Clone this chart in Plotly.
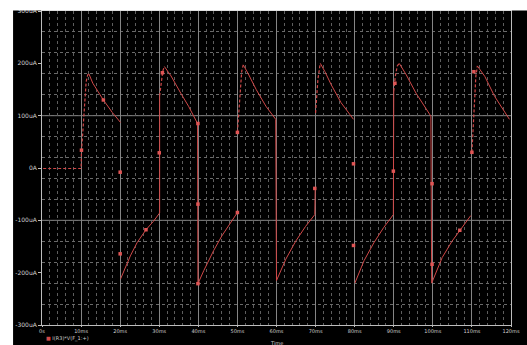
import plotly.graph_objects as go

# ---- data (time in ms, current in uA) ----
# continuous (solid) parts of the trace; None = gap in the plotted curve
t_solid = [12.0, 13.0, 15.7, 18.0, 20.1, None,
           20.1, 21.4, 22.6, 24.3, 26.6, 28.5, 30.1, 30.1, None,
           31.3, 33.0, 35.5, 37.5, 39.8, 39.9, 41.4, 43.9, 46.0, 48.9, 50.0, None,
           51.5, 52.7, 54.8, 57.3, 59.8, 60.0, 62.4, 64.9, 67.4, 69.8, 69.9, None,
           71.2, 72.4, 74.0, 76.5, 79.7, None,
           80.05, 82.4, 84.9, 87.4, 89.9, 90.0, None,
           91.4, 93.2, 95.7, 99.5, 99.7, 102.4, 104.9, 106.9, 109.7, None,
           111.4, 113.3, 115.8, 119.6]
i_solid = [180, 162, 130, 106, 87, None,
           -212, -190, -168, -143, -118, -102, -86, 138, None,
           194, 176, 143, 118, 85, -221, -196, -158, -130, -99, -85, None,
           197, 181, 150, 118, 93, -215, -174, -140, -112, -89, -39, None,
           200, 184, 159, 125, 93, None,
           -220, -177, -143, -114, -89, 147, None,
           200, 178, 143, 99, -220, -171, -140, -119, -91, None,
           195, 175, 137, 93]

# sparsely drawn (dashed-looking) parts: initial flat part and fast rises
t_dash = [0.3, 10.0, 10.1, 10.5, 10.7, 11.1, 11.3, 11.7, 12.0, None,
          30.1, 30.5, 30.9, 31.3, None,
          50.0, 50.3, 50.7, 51.1, 51.5, None,
          70.0, 70.2, 70.6, 71.2, None,
          90.0, 90.4, 90.9, 91.4, None,
          110.0, 110.3, 110.6, 111.0, 111.4]
i_dash = [-1, -1, 30, 72, 98, 151, 165, 178, 180, None,
          138, 165, 185, 194, None,
          68, 103, 150, 185, 197, None,
          105, 130, 170, 200, None,
          147, 175, 195, 200, None,
          30, 80, 130, 175, 195]

# trace symbol markers
t_mark = [10.1, 15.7, 20.0, 20.0, 26.6, 30.0, 30.8,
          39.9, 39.9, 39.9, 50.0, 50.0, 69.8,
          79.7, 79.7, 89.9, 90.3, 99.8, 99.8, 106.9, 110.0, 110.5]
i_mark = [34, 130, -8, -164, -118, 29, 182,
          85, -69, -221, -85, 68, -39,
          8, -148, -6, 162, -30, -184, -119, 30, 184]

x_ticks = [0, 10, 20, 30, 40, 50, 60, 70, 80, 90, 100, 110, 120]
x_labels = ["0s", "10ms", "20ms", "30ms", "40ms", "50ms", "60ms", "70ms",
            "80ms", "90ms", "100ms", "110ms", "120ms"]
y_ticks = [-300, -200, -100, 0, 100, 200, 300]
y_labels = ["-300uA", "-200uA", "-100uA", "0A", "100uA", "200uA", "300uA"]
trace_name = "I(R3)*V(F_1:+)"

RED = "#d04848"
GRID = "#5e5e5e"
FONT = dict(family="DejaVu Sans", size=6, color="#d0d0d0")
XFONT = dict(family="DejaVu Sans", size=5, color="#d0d0d0")

fig = go.Figure()
fig.add_trace(go.Scatter(x=t_solid, y=i_solid, mode="lines", connectgaps=False,
                         line=dict(color=RED, width=1), hoverinfo="skip"))
fig.add_trace(go.Scatter(x=t_dash, y=i_dash, mode="lines", connectgaps=False,
                         line=dict(color=RED, width=1.2, dash="3px,2px"), hoverinfo="skip"))
fig.add_trace(go.Scatter(x=t_mark, y=i_mark, mode="markers",
                         marker=dict(symbol="square", size=3.5, color="#e05555"),
                         hoverinfo="skip"))

fig.update_layout(
    width=527, height=345,
    margin=dict(l=42, r=8, t=7, b=20),
    paper_bgcolor="black", plot_bgcolor="black",
    showlegend=False,
    font=FONT,
    xaxis=dict(range=[0, 120], tickmode="array", tickvals=x_ticks, ticktext=x_labels,
               showgrid=True, gridcolor="#858585", gridwidth=1,
               minor=dict(tickmode="linear", tick0=0, dtick=2, showgrid=True,
                          gridcolor=GRID, griddash="dot", gridwidth=1),
               showline=True, linecolor="#bdbdbd", linewidth=1, mirror=True,
               ticks="outside", ticklen=1, tickcolor="#bdbdbd",
               ticklabeloverflow="allow",
               zeroline=False, tickfont=XFONT, fixedrange=True),
    yaxis=dict(range=[-300, 300], tickmode="array", tickvals=y_ticks, ticktext=y_labels,
               showgrid=False,
               minor=dict(tickmode="linear", tick0=-300, dtick=40, showgrid=True,
                          gridcolor="#6a6a6a", griddash="dot", gridwidth=1),
               showline=True, linecolor="#bdbdbd", linewidth=1, mirror=True,
               ticks="outside", ticklen=3, tickcolor="#bdbdbd",
               zeroline=False, tickfont=FONT, fixedrange=True),
)

# solid horizontal guide lines at +/-100uA
for yv in (-100, 100):
    fig.add_shape(type="line", xref="x", yref="y", x0=0, x1=120, y0=yv, y1=yv,
                  line=dict(color="#8a8a8a", width=1), layer="below")

# white frame strips (left and top) of the screenshot
fig.add_shape(type="rect", xref="paper", yref="paper", x0=-0.2, x1=-0.0617, y0=-0.2, y1=1.2,
              fillcolor="white", line=dict(width=0), layer="above")
fig.add_shape(type="rect", xref="paper", yref="paper", x0=-0.2, x1=1.2, y0=1.0016, y1=1.2,
              fillcolor="white", line=dict(width=0), layer="above")

fig.add_annotation(xref="paper", yref="paper", x=0.004, y=-0.042, xanchor="left", yanchor="middle",
                   text=f"<span style='color:{RED}'>■</span> {trace_name}", showarrow=False,
                   font=XFONT)
fig.add_annotation(xref="paper", yref="paper", x=0.5, y=-0.056, xanchor="center", yanchor="middle",
                   text="Time", showarrow=False, font=XFONT)

fig.write_html("out.html",
               config={"displayModeBar": False, "staticPlot": True},
               post_script="document.body.style.margin='0';document.body.style.overflow='hidden';")
